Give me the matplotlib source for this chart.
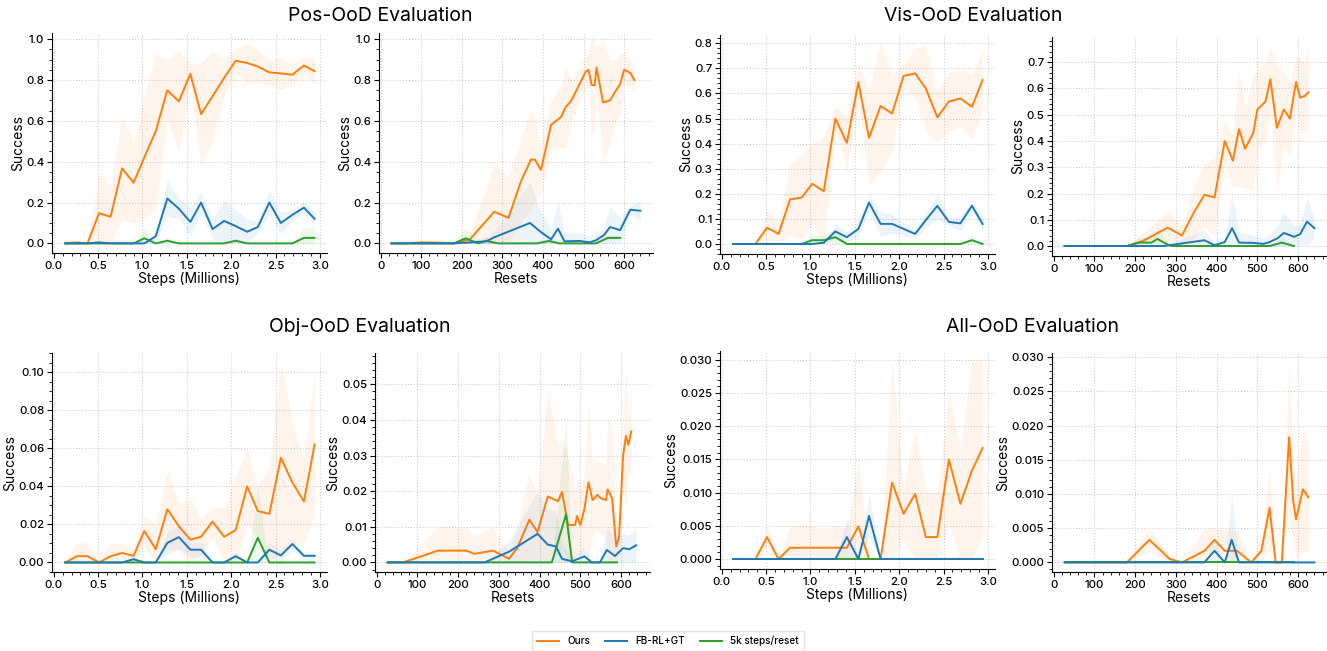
import numpy as np
import matplotlib
matplotlib.use("Agg")
import matplotlib.pyplot as plt
from matplotlib.ticker import MultipleLocator, AutoMinorLocator
from matplotlib.lines import Line2D

plt.rcParams['font.family'] = ['Inter', 'DejaVu Sans']
plt.rcParams['font.weight'] = 500

C_OURS = '#ff7f0e'
C_FB = '#1f77b4'
C_5K = '#2ca02c'

# evaluation points (millions of steps)
steps = [0.13, 0.26, 0.38, 0.51, 0.64, 0.77, 0.90, 1.02, 1.15, 1.28, 1.41, 1.54,
         1.66, 1.79, 1.92, 2.05, 2.18, 2.30, 2.43, 2.56, 2.69, 2.82, 2.94]

# ---------------- Pos-OoD ----------------
pos_steps_ours = [0.0, 0.005, 0.0, 0.148, 0.13, 0.367, 0.297, 0.42, 0.55, 0.75, 0.695, 0.83,
                  0.633, 0.72, 0.81, 0.894, 0.883, 0.866, 0.837, 0.832, 0.826, 0.871, 0.843]
pos_steps_ours_sd = [0.003, 0.008, 0.003, 0.2, 0.15, 0.25, 0.2, 0.3, 0.38, 0.15, 0.25, 0.05,
                     0.25, 0.22, 0.09, 0.06, 0.1, 0.08, 0.06, 0.08, 0.05, 0.04, 0.06]
pos_steps_fb = [0, 0, 0, 0.005, 0, 0, 0, 0, 0.035, 0.22, 0.17, 0.105, 0.2, 0.07, 0.11, 0.085,
                0.057, 0.08, 0.2, 0.1, 0.14, 0.175, 0.12]
pos_steps_fb_sd = [0, 0, 0, 0.003, 0, 0, 0, 0, 0.02, 0.09, 0.05, 0.07, 0.05, 0.05, 0.1, 0.08,
                   0.06, 0.03, 0.06, 0.05, 0.03, 0.03, 0.03]
pos_steps_5k = [0, 0, 0, 0, 0, 0, 0, 0.025, 0, 0.013, 0, 0, 0, 0, 0, 0.013, 0, 0, 0, 0, 0,
                0.027, 0.027]
pos_steps_5k_sd = [0, 0, 0, 0, 0, 0, 0, 0.045, 0, 0.02, 0, 0, 0, 0, 0, 0.015, 0, 0, 0, 0, 0,
                   0.05, 0.05]

pos_resets_ours_x = [27, 60, 100, 140, 180, 220, 280, 315, 345, 370, 380, 395, 420, 445, 455,
                     470, 490, 505, 512, 520, 527, 532, 548, 565, 580, 590, 600, 615, 625]
pos_resets_ours = [0, 0, 0.005, 0.004, 0, 0.02, 0.155, 0.125, 0.3, 0.41, 0.41, 0.36, 0.58,
                   0.62, 0.665, 0.7, 0.78, 0.84, 0.85, 0.775, 0.775, 0.86, 0.69, 0.7, 0.75,
                   0.78, 0.85, 0.835, 0.8]
pos_resets_ours_sd = [0, 0, 0.005, 0.004, 0, 0.03, 0.23, 0.2, 0.2, 0.25, 0.2, 0.12, 0.12,
                      0.15, 0.2, 0.1, 0.08, 0.08, 0.08, 0.25, 0.2, 0.1, 0.3, 0.2, 0.15, 0.15,
                      0.08, 0.07, 0.06]
pos_resets_fb_x = [27, 180, 260, 280, 368, 395, 420, 437, 453, 490, 515, 530, 550, 565, 590,
                   615, 640]
pos_resets_fb = [0, 0, 0.01, 0.03, 0.1, 0.055, 0.02, 0.072, 0.01, 0.012, 0.005, 0.015, 0.04,
                 0.08, 0.065, 0.165, 0.16]
pos_resets_fb_sd = [0, 0, 0.02, 0.03, 0.2, 0.1, 0.05, 0.14, 0.04, 0.04, 0.03, 0.03, 0.04,
                    0.1, 0.06, 0.02, 0.05]
pos_resets_5k_x = [27, 180, 210, 240, 260, 290, 385, 415, 440, 530, 560, 590]
pos_resets_5k = [0, 0, 0.025, 0, 0.012, 0, 0, 0.012, 0, 0, 0.027, 0.027]
pos_resets_5k_sd = [0, 0, 0.05, 0.005, 0.02, 0, 0, 0.01, 0, 0, 0.012, 0.005]

# ---------------- Vis-OoD ----------------
vis_steps_ours = [0, 0, 0, 0.065, 0.04, 0.178, 0.185, 0.24, 0.21, 0.5, 0.403, 0.645, 0.423,
                  0.55, 0.52, 0.67, 0.68, 0.62, 0.505, 0.568, 0.58, 0.547, 0.653]
vis_steps_ours_sd = [0, 0, 0, 0.07, 0.05, 0.14, 0.17, 0.16, 0.22, 0.05, 0.11, 0.08, 0.19,
                     0.26, 0.15, 0.05, 0.1, 0.17, 0.1, 0.12, 0.11, 0.13, 0.12]
vis_steps_fb = [0, 0, 0, 0, 0, 0, 0, 0, 0.005, 0.05, 0.027, 0.06, 0.165, 0.08, 0.08, 0.06,
                0.04, 0.095, 0.152, 0.088, 0.082, 0.152, 0.08]
vis_steps_fb_sd = [0, 0, 0, 0, 0, 0, 0, 0, 0.003, 0.03, 0.02, 0.03, 0.035, 0.05, 0.035, 0.025,
                   0.02, 0.03, 0.05, 0.015, 0.03, 0.02, 0.03]
vis_steps_5k = [0, 0, 0, 0, 0, 0, 0, 0.015, 0.015, 0.027, 0, 0, 0, 0, 0, 0, 0, 0, 0, 0, 0,
                0.015, 0]
vis_steps_5k_sd = [0, 0, 0, 0, 0, 0, 0, 0.02, 0.02, 0.03, 0, 0, 0, 0, 0, 0, 0, 0, 0, 0, 0,
                   0.02, 0]

vis_resets_ours_x = [27, 180, 220, 280, 315, 345, 370, 395, 420, 440, 455, 470, 490, 500,
                     520, 532, 548, 565, 580, 595, 605, 615, 625]
vis_resets_ours = [0, 0, 0.02, 0.07, 0.04, 0.13, 0.195, 0.185, 0.40, 0.325, 0.445, 0.37, 0.43,
                   0.52, 0.55, 0.635, 0.45, 0.52, 0.485, 0.625, 0.565, 0.57, 0.585]
vis_resets_ours_sd = [0, 0, 0.03, 0.065, 0.04, 0.1, 0.12, 0.15, 0.08, 0.1, 0.22, 0.15, 0.22,
                      0.15, 0.15, 0.12, 0.24, 0.14, 0.15, 0.1, 0.15, 0.12, 0.17]
vis_resets_fb_x = [27, 270, 370, 395, 420, 438, 455, 490, 515, 530, 550, 565, 590, 605, 622,
                   640]
vis_resets_fb = [0, 0, 0.022, 0.003, 0.015, 0.068, 0.013, 0.012, 0.008, 0.015, 0.03, 0.05,
                 0.035, 0.045, 0.093, 0.068]
vis_resets_fb_sd = [0, 0, 0.04, 0.01, 0.02, 0.13, 0.04, 0.03, 0.02, 0.03, 0.05, 0.08, 0.04,
                    0.04, 0.09, 0.04]
vis_resets_5k_x = [27, 180, 210, 240, 255, 280, 290, 530, 560, 590]
vis_resets_5k = [0, 0, 0.013, 0.013, 0.027, 0.005, 0, 0, 0.013, 0]
vis_resets_5k_sd = [0, 0, 0.02, 0.02, 0.05, 0.01, 0, 0, 0.02, 0]

# ---------------- Obj-OoD ----------------
obj_steps_ours = [0, 0.0033, 0.0033, 0, 0.0033, 0.005, 0.0035, 0.0165, 0.007, 0.028, 0.019,
                  0.012, 0.0135, 0.0215, 0.0135, 0.017, 0.04, 0.027, 0.0255, 0.055, 0.042,
                  0.032, 0.062]
obj_steps_ours_sd = [0, 0.007, 0.007, 0, 0.007, 0.005, 0.004, 0.008, 0.013, 0.021, 0.012,
                     0.022, 0.009, 0.008, 0.015, 0.028, 0.02, 0.013, 0.025, 0.05, 0.032,
                     0.022, 0.037]
obj_steps_fb = [0, 0, 0, 0, 0, 0, 0.0017, 0, 0, 0.0103, 0.0133, 0.0067, 0.0067, 0, 0, 0.0033,
                0, 0, 0.0067, 0.0037, 0.0097, 0.0035, 0.0035]
obj_steps_fb_sd = [0, 0, 0, 0, 0, 0, 0.002, 0, 0, 0.006, 0.006, 0.004, 0.004, 0, 0, 0.002, 0,
                   0, 0.004, 0.003, 0.003, 0.002, 0.002]
obj_steps_5k = [0, 0, 0, 0, 0, 0, 0, 0, 0, 0, 0, 0, 0, 0, 0, 0, 0, 0.013, 0, 0, 0, 0, 0]
obj_steps_5k_sd = [0, 0, 0, 0, 0, 0, 0, 0, 0, 0, 0, 0, 0, 0, 0, 0, 0, 0.026, 0, 0, 0, 0, 0]

obj_resets_ours_x = [27, 65, 150, 220, 240, 285, 300, 325, 345, 360, 375, 395, 420, 445, 455,
                     470, 487, 492, 500, 510, 520, 530, 542, 550, 563, 567, 578, 588, 595,
                     605, 612, 618, 625]
obj_resets_ours = [0, 0, 0.0033, 0.0033, 0.0024, 0.0033, 0.0025, 0.001, 0.004, 0.008, 0.012,
                   0.0085, 0.0185, 0.0172, 0.0198, 0.0105, 0.0105, 0.013, 0.0105, 0.015,
                   0.0225, 0.0175, 0.019, 0.018, 0.0175, 0.0205, 0.018, 0.0045, 0.007, 0.03,
                   0.0355, 0.033, 0.0368]
obj_resets_ours_sd = [0, 0, 0.0067, 0.0067, 0.005, 0.0067, 0.004, 0.002, 0.005, 0.01, 0.013,
                      0.01, 0.03, 0.015, 0.015, 0.02, 0.01, 0.01, 0.01, 0.01, 0.022, 0.01,
                      0.01, 0.01, 0.01, 0.02, 0.02, 0.005, 0.005, 0.01, 0.02, 0.008, 0.012]
obj_resets_fb_x = [27, 265, 325, 395, 420, 440, 455, 480, 510, 528, 548, 565, 585, 605, 620,
                   637]
obj_resets_fb = [0, 0, 0.003, 0.008, 0.005, 0.0045, 0.001, 0.0003, 0.0017, 0, 0, 0.0035,
                 0.0018, 0.004, 0.0037, 0.0048]
obj_resets_fb_sd = [0, 0, 0.003, 0.012, 0.01, 0.01, 0.004, 0.001, 0.003, 0, 0, 0.006, 0.006,
                    0.004, 0.004, 0.005]
obj_resets_5k_x = [27, 430, 465, 480, 590]
obj_resets_5k = [0, 0, 0.0135, 0, 0]
obj_resets_5k_sd = [0, 0, 0.027, 0, 0]

# ---------------- All-OoD ----------------
all_steps_ours = [0, 0, 0, 0.0033, 0, 0.0017, 0.0017, 0.0017, 0.0017, 0.0017, 0.0017, 0.0049,
                  0, 0, 0.0115, 0.0068, 0.0098, 0.0033, 0.0033, 0.015, 0.0083, 0.0133, 0.0167]
all_steps_ours_sd = [0, 0, 0, 0.0017, 0, 0.0033, 0.0033, 0.0033, 0.003, 0.0033, 0.003, 0.01,
                     0, 0, 0.018, 0.004, 0.01, 0.0067, 0.0067, 0.01, 0.0083, 0.0167, 0.0133]
all_steps_fb = [0, 0, 0, 0, 0, 0, 0, 0, 0, 0, 0.0033, 0, 0.0065, 0, 0, 0, 0, 0, 0, 0, 0, 0, 0]
all_steps_fb_sd = [0, 0, 0, 0, 0, 0, 0, 0, 0, 0, 0.003, 0, 0.0033, 0, 0, 0, 0, 0, 0, 0, 0, 0,
                   0]
all_steps_5k = [0] * 23
all_steps_5k_sd = [0] * 23

all_resets_ours_x = [27, 180, 235, 285, 315, 370, 395, 420, 450, 485, 510, 530, 545, 560, 578,
                     588, 595, 612, 625]
all_resets_ours = [0, 0, 0.0033, 0.0005, 0, 0.0017, 0.0033, 0.0017, 0.0017, 0, 0.0017, 0.008,
                   0, 0, 0.0183, 0.009, 0.0063, 0.0107, 0.0095]
all_resets_ours_sd = [0, 0, 0.0017, 0.0005, 0, 0.0033, 0.0017, 0.003, 0.003, 0, 0.0017, 0.006,
                      0, 0, 0.011, 0.006, 0.006, 0.009, 0.008]
all_resets_fb_x = [27, 370, 395, 420, 437, 455, 640]
all_resets_fb = [0, 0, 0.0017, 0, 0.0033, 0, 0]
all_resets_fb_sd = [0, 0, 0.002, 0, 0.0067, 0, 0]
all_resets_5k_x = [27, 590]
all_resets_5k = [0, 0]
all_resets_5k_sd = [0, 0]


def draw(ax, x, y, sd, color, z):
    x = np.asarray(x, float)
    y = np.asarray(y, float)
    sd = np.asarray(sd, float)
    ax.fill_between(x, np.clip(y - sd, 0, None), y + sd, color=color, alpha=0.08, lw=0,
                    zorder=z)
    ax.plot(x, y, color=color, lw=1.4, zorder=z + 0.5)


def style(ax, ylim, ystep, xlim, xstep, xlabel):
    ax.set_xlim(*xlim)
    ax.set_ylim(*ylim)
    ax.yaxis.set_major_locator(MultipleLocator(ystep))
    ax.xaxis.set_major_locator(MultipleLocator(xstep))
    ax.xaxis.set_minor_locator(AutoMinorLocator())
    ax.yaxis.set_minor_locator(AutoMinorLocator())
    ax.grid(True, which='major', linestyle=':', color='#cfcfcf', lw=0.8)
    ax.set_axisbelow(True)
    for s in ('top', 'right'):
        ax.spines[s].set_visible(False)
    for s in ('left', 'bottom'):
        ax.spines[s].set_linewidth(0.8)
    ax.tick_params(which='major', length=3.5, width=0.8, labelsize=8.2, pad=2)
    ax.tick_params(which='minor', length=2, width=0.6)
    ax.set_xlabel(xlabel, fontsize=10, labelpad=1)
    ax.set_ylabel('Success', fontsize=10, labelpad=1)


W, H = 1327, 651
fig = plt.figure(figsize=(W / 100, H / 100), dpi=100)


def add_ax(left, right, top, bottom):
    return fig.add_axes([left / W, 1 - bottom / H, (right - left) / W, (bottom - top) / H])


panels = [
    # (box, steps-or-resets, data..., ylim, ystep)
    ((52, 327, 33, 253), 'steps',
     (steps, pos_steps_ours, pos_steps_ours_sd), (steps, pos_steps_fb, pos_steps_fb_sd),
     (steps, pos_steps_5k, pos_steps_5k_sd), (-0.047, 1.03), 0.2),
    ((379, 653, 33, 253), 'resets',
     (pos_resets_ours_x, pos_resets_ours, pos_resets_ours_sd),
     (pos_resets_fb_x, pos_resets_fb, pos_resets_fb_sd),
     (pos_resets_5k_x, pos_resets_5k, pos_resets_5k_sd), (-0.047, 1.03), 0.2),
    ((720, 995, 35, 254), 'steps',
     (steps, vis_steps_ours, vis_steps_ours_sd), (steps, vis_steps_fb, vis_steps_fb_sd),
     (steps, vis_steps_5k, vis_steps_5k_sd), (-0.04, 0.833), 0.1),
    ((1052, 1327, 37, 256), 'resets',
     (vis_resets_ours_x, vis_resets_ours, vis_resets_ours_sd),
     (vis_resets_fb_x, vis_resets_fb, vis_resets_fb_sd),
     (vis_resets_5k_x, vis_resets_5k, vis_resets_5k_sd), (-0.038, 0.796), 0.1),
    ((52, 327, 353, 572), 'steps',
     (steps, obj_steps_ours, obj_steps_ours_sd), (steps, obj_steps_fb, obj_steps_fb_sd),
     (steps, obj_steps_5k, obj_steps_5k_sd), (-0.005, 0.11), 0.02),
    ((375, 650, 353, 572), 'resets',
     (obj_resets_ours_x, obj_resets_ours, obj_resets_ours_sd),
     (obj_resets_fb_x, obj_resets_fb, obj_resets_fb_sd),
     (obj_resets_5k_x, obj_resets_5k, obj_resets_5k_sd), (-0.0027, 0.0588), 0.01),
    ((720, 995, 351, 569), 'steps',
     (steps, all_steps_ours, all_steps_ours_sd), (steps, all_steps_fb, all_steps_fb_sd),
     (steps, all_steps_5k, all_steps_5k_sd), (-0.0015, 0.0313), 0.005),
    ((1052, 1327, 353, 572), 'resets',
     (all_resets_ours_x, all_resets_ours, all_resets_ours_sd),
     (all_resets_fb_x, all_resets_fb, all_resets_fb_sd),
     (all_resets_5k_x, all_resets_5k, all_resets_5k_sd), (-0.0014, 0.0306), 0.005),
]

for box, kind, ours, fb, k5, ylim, ystep in panels:
    ax = add_ax(*box)
    draw(ax, *ours, C_OURS, 2)
    draw(ax, *k5, C_5K, 3)
    draw(ax, *fb, C_FB, 4)
    if kind == 'steps':
        style(ax, ylim, ystep, (-0.02, 3.08), 0.5, 'Steps (Millions)')
    else:
        style(ax, ylim, ystep, (-4, 671), 100, 'Resets')

titles = [('Pos-OoD Evaluation', 380, 16), ('Vis-OoD Evaluation', 973, 16),
          ('Obj-OoD Evaluation', 360, 327), ('All-OoD Evaluation', 1032, 327)]
for t, x, y in titles:
    fig.text(x / W, 1 - y / H, t, ha='center', va='center', fontsize=14,
             fontweight='normal')

handles = [Line2D([], [], color=C_OURS, lw=1.4), Line2D([], [], color=C_FB, lw=1.4),
           Line2D([], [], color=C_5K, lw=1.4)]
fig.legend(handles, ['Ours', 'FB-RL+GT', '5k steps/reset'], loc='center',
           bbox_to_anchor=(668 / W, 1 - 641 / H), ncol=3, fontsize=7.2, frameon=True,
           handlelength=2.2, columnspacing=1.5, fancybox=False, edgecolor='#dddddd',
           borderpad=0.5)

fig.savefig('out.png', dpi=100)
